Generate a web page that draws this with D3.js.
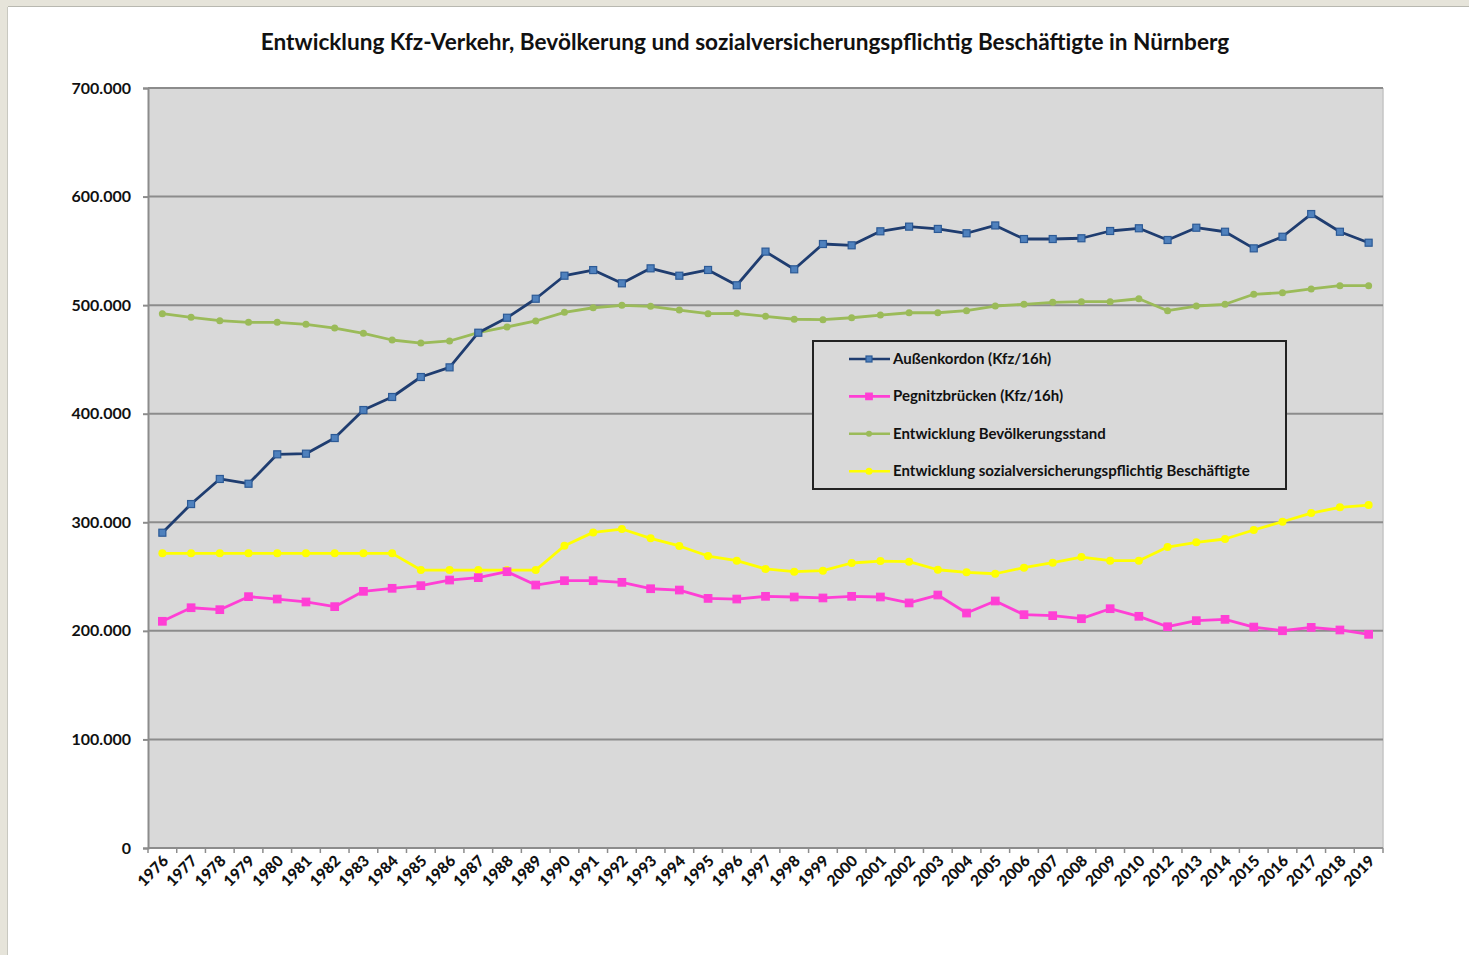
<!DOCTYPE html>
<html><head><meta charset="utf-8">
<script src="https://cdn.jsdelivr.net/npm/d3@7"></script>
<style>html,body{margin:0;padding:0;background:#fff;}svg{display:block;}</style>
</head><body>
<svg id="c" width="1469" height="955"></svg>
<script>
const years = ["1976","1977","1978","1979","1980","1981","1982","1983","1984","1985","1986","1987","1988","1989","1990","1991","1992","1993","1994","1995","1996","1997","1998","1999","2000","2001","2002","2003","2004","2005","2006","2007","2008","2009","2010","2012","2013","2014","2015","2016","2017","2018","2019"];
const aussenkordon = [290400,316800,339900,335500,362600,363200,377600,403400,415400,433800,442700,474600,488400,505900,527100,532300,520100,533900,527100,532400,518300,549300,533000,556300,555100,568000,572300,570200,566200,573400,560900,560900,561600,568300,570800,560000,571300,567600,552300,563000,583900,567600,557500];
const pegnitz = [208800,221300,219500,231500,229300,226600,222300,236400,239200,241600,246800,249000,254500,242200,246200,246200,244700,238800,237600,229900,229300,231800,231200,230300,231800,231200,225700,233000,216400,227500,214900,214000,211200,220400,213400,203800,209400,210600,203500,200100,203200,200800,196800];
const bevoelkerung = [492100,488800,485700,484200,484200,482300,478900,474000,467900,465100,467000,474600,479900,485400,493400,497600,499800,498900,495500,492100,492500,489700,487000,486600,488400,490900,493000,493000,494900,499200,500800,502600,503200,503200,505900,494900,499200,500800,510000,511500,514900,517900,517900];
const beschaeftigte = [271400,271400,271400,271400,271400,271400,271400,271400,271400,256000,256000,256000,256000,256000,278400,290700,293800,285200,278200,268900,264600,257000,254500,255400,262500,264300,263700,256300,253900,252600,258200,262800,268000,264600,264600,277200,281500,284600,292900,300500,308500,313800,315900];
const yTicks = [0,100000,200000,300000,400000,500000,600000,700000];
const yTickLabels = ["0","100.000","200.000","300.000","400.000","500.000","600.000","700.000"];
const seriesNames = ["Außenkordon (Kfz/16h)","Pegnitzbrücken (Kfz/16h)","Entwicklung Bevölkerungsstand","Entwicklung sozialversicherungspflichtig Beschäftigte"];
const titleText = "Entwicklung Kfz-Verkehr, Bevölkerung und sozialversicherungspflichtig Beschäftigte in Nürnberg";

const svg = d3.select("#c");
const font = "Lato, 'Open Sans', sans-serif";

// page frame
svg.append("rect").attr("x",0).attr("y",0).attr("width",1469).attr("height",955).attr("fill","#e6e4da");
svg.append("rect").attr("x",8).attr("y",7).attr("width",1461).attr("height",948).attr("fill","#ffffff");
svg.append("line").attr("x1",8).attr("x2",1469).attr("y1",6.5).attr("y2",6.5).attr("stroke","#b8b8b0").attr("stroke-width",1);
svg.append("line").attr("x1",7.5).attr("x2",7.5).attr("y1",7).attr("y2",955).attr("stroke","#c8c8c0").attr("stroke-width",1);

const L = 148, R = 1383, T = 88, B = 848;
const x = d3.scaleBand().domain(years).range([L,R]).padding(0);
const y = d3.scaleLinear().domain([0,700000]).range([B,T]);
const cx = d => x(d) + x.bandwidth()/2;

// plot area
svg.append("rect").attr("x",L).attr("y",T).attr("width",R-L).attr("height",B-T).attr("fill","#d9d9d9");
svg.append("line").attr("x1",R).attr("x2",R).attr("y1",T).attr("y2",B).attr("stroke","#c4c4c4").attr("stroke-width",1.5);

// gridlines
svg.append("g").selectAll("line").data(yTicks.slice(1)).join("line")
  .attr("x1",L).attr("x2",R).attr("y1",d=>y(d)).attr("y2",d=>y(d))
  .attr("stroke","#8c8c8c").attr("stroke-width",2);

// y axis
const yAxis = d3.axisLeft(y).tickValues(yTicks).tickSize(5).tickPadding(12)
  .tickFormat((d,i)=>yTickLabels[i]);
const gy = svg.append("g").attr("transform",`translate(${L},0)`).call(yAxis);
gy.select(".domain").attr("stroke","#8c8c8c").attr("stroke-width",2);
gy.selectAll(".tick line").attr("stroke","#8c8c8c").attr("stroke-width",2);
gy.selectAll(".tick text").attr("font-family",font).attr("font-weight","bold").attr("font-size","16px").attr("fill","#111");

// x axis
svg.append("line").attr("x1",L).attr("x2",R).attr("y1",B).attr("y2",B).attr("stroke","#8c8c8c").attr("stroke-width",2);
const bounds = years.map(d=>x(d)).concat([R]);
svg.append("g").selectAll("line").data(bounds).join("line")
  .attr("x1",d=>d).attr("x2",d=>d).attr("y1",B).attr("y2",B+5)
  .attr("stroke","#8c8c8c").attr("stroke-width",1.5);
svg.append("g").selectAll("text").data(years).join("text")
  .attr("transform",d=>`translate(${cx(d)+7},${B+14}) rotate(-45)`)
  .attr("text-anchor","end").attr("font-family",font).attr("font-weight","900")
  .attr("font-size","15.5px").attr("fill","#111").text(d=>d);

// title
svg.append("text").attr("x",745).attr("y",50).attr("text-anchor","middle")
  .attr("font-family",font).attr("font-weight","bold").attr("font-size","22.6px").attr("fill","#111").text(titleText);

const series = [
  {name:seriesNames[0], data:aussenkordon, line:"#1f3d70", fill:"#4f81bd", stroke:"#2c5a96", shape:"square", size:7},
  {name:seriesNames[1], data:pegnitz, line:"#ff3fd5", fill:"#ff3fd5", stroke:"#ff3fd5", shape:"square", size:7.5},
  {name:seriesNames[2], data:bevoelkerung, line:"#9bbb59", fill:"#9bbb59", stroke:"#9bbb59", shape:"circle", size:7},
  {name:seriesNames[3], data:beschaeftigte, line:"#ffff00", fill:"#ffff00", stroke:"#ffff00", shape:"circle", size:8}
];
const lineGen = d3.line().x((d,i)=>cx(years[i])).y(d=>y(d));

function marker(g, s, px, py){
  if(s.shape==="square"){
    g.append("rect").attr("x",px-s.size/2).attr("y",py-s.size/2).attr("width",s.size).attr("height",s.size)
      .attr("fill",s.fill).attr("stroke",s.stroke).attr("stroke-width",1.2);
  } else {
    g.append("circle").attr("cx",px).attr("cy",py).attr("r",s.size/2).attr("fill",s.fill);
  }
}

// draw in order: yellow, green, pink, blue on top
[3,2,1,0].forEach(k=>{
  const s = series[k];
  const g = svg.append("g");
  g.append("path").datum(s.data).attr("d",lineGen).attr("fill","none").attr("stroke",s.line).attr("stroke-width",2.8).attr("stroke-linejoin","round");
  s.data.forEach((v,i)=>marker(g,s,cx(years[i]),y(v)));
});

// legend
const lg = svg.append("g");
lg.append("rect").attr("x",813).attr("y",341).attr("width",473).attr("height",148)
  .attr("fill","#d9d9d9").attr("stroke","#222").attr("stroke-width",2);
series.forEach((s,i)=>{
  const ly = 359 + i*37.4;
  lg.append("line").attr("x1",849).attr("x2",890).attr("y1",ly).attr("y2",ly).attr("stroke",s.line).attr("stroke-width",2.6);
  const ms = Object.assign({},s,{size:s.size-1});
  marker(lg,ms,869,ly);
  lg.append("text").attr("x",893).attr("y",ly+5).attr("font-family",font).attr("font-weight","bold")
    .attr("font-size","15px").attr("fill","#111").text(s.name);
});
</script>
</body></html>
